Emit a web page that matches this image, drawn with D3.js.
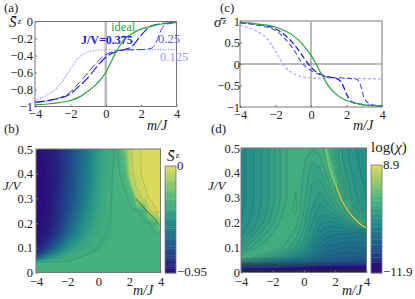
<!DOCTYPE html>
<html>
<head>
<meta charset="utf-8">
<script src="https://cdn.jsdelivr.net/npm/d3@7"></script>
<style>
html, body { margin: 0; padding: 0; background: #fff; overflow: hidden; }
text { font-family: "Liberation Serif", serif; fill: #222; }
.axis text { font-size: 12.5px; }
.lbl { font-size: 13px; }
</style>
</head>
<body>
<script>
//curve data (a) and (c)
var idealM = [-4, -3, -2, -1.5, -1, -0.5, 0, 0.25, 0.5, 0.75, 1, 1.5, 2, 2.5, 3, 4];
var idealS = [-0.98, -0.965, -0.93, -0.89, -0.82, -0.73, -0.6, -0.5, -0.39, -0.3, -0.22, -0.14, -0.09, -0.06, -0.035, -0.015];
var idealSigma = [0.96, 0.93, 0.86, 0.78, 0.66, 0.47, 0.2, 0.03, -0.17, -0.35, -0.52, -0.73, -0.85, -0.91, -0.95, -0.98];

var m375S = [-4, -3, -2, -1.5, -1, -0.5, 0, 0.5, 1, 1.5, 2, 2.5, 3, 4];
var s375 = [-0.95, -0.92, -0.85, -0.76, -0.66, -0.53, -0.42, -0.36, -0.335, -0.29, -0.16, -0.06, -0.03, -0.01];
var m25S = [-4, -3, -2, -1.5, -1, -0.5, 0, 0.5, 1, 2, 2.5, 2.8, 3, 3.2, 3.5, 4];
var s25 = [-0.95, -0.92, -0.83, -0.72, -0.6, -0.48, -0.39, -0.35, -0.335, -0.33, -0.32, -0.27, -0.17, -0.07, -0.03, -0.01];
var m125S = [-4, -3, -2.5, -2, -1.5, -1, -0.5, 0, 4];
var s125 = [-0.93, -0.82, -0.72, -0.56, -0.42, -0.36, -0.34, -0.335, -0.33];

var m375Sig = [-4, -3, -2, -1.5, -1, -0.5, 0, 0.5, 1, 1.5, 1.75, 2, 2.3, 2.7, 4];
var sig375 = [0.96, 0.92, 0.82, 0.68, 0.48, 0.2, -0.08, -0.23, -0.3, -0.35, -0.45, -0.7, -0.88, -0.93, -0.98];
var m25Sig = [-4, -3, -2, -1.5, -1, -0.5, 0, 0.5, 1, 2, 2.6, 2.8, 3, 3.3, 4];
var sig25 = [0.96, 0.9, 0.78, 0.6, 0.35, 0.02, -0.15, -0.25, -0.31, -0.33, -0.36, -0.5, -0.8, -0.92, -0.98];
var m125Sig = [-4, -3, -2.5, -2, -1.5, -1, -0.5, 0, 1, 4];
var sig125 = [0.9, 0.75, 0.6, 0.3, -0.05, -0.22, -0.3, -0.33, -0.33, -0.35];

//grid axes for the two contour panels
var gridM = [-4, -3.5, -3, -2.5, -2, -1.5, -1, -0.5, 0, 0.5, 1, 1.25, 1.5, 1.75, 2, 2.25, 2.5, 2.75, 3, 3.25, 3.5, 3.75, 4];
var gridJ = [0.5, 0.45, 0.4, 0.35, 0.3, 0.25, 0.2, 0.15, 0.1, 0.08, 0.06, 0.04, 0.025, 0.01, 0];

//panel (b) S values, one row per gridJ
var gridS = [
  [-.94,-.93,-.9,-.86,-.8,-.72,-.63,-.54,-.44,-.37,-.34,-.32,-.29,-.2,-.06,-.04,-.03,-.02,-.015,-.01,-.01,-.005,0],
  [-.95,-.93,-.9,-.86,-.8,-.72,-.63,-.53,-.43,-.37,-.34,-.33,-.31,-.26,-.07,-.04,-.03,-.02,-.015,-.01,-.01,-.005,0],
  [-.95,-.94,-.91,-.86,-.8,-.72,-.62,-.52,-.42,-.36,-.335,-.33,-.32,-.3,-.1,-.05,-.03,-.02,-.015,-.01,-.01,-.005,0],
  [-.95,-.94,-.91,-.86,-.79,-.71,-.61,-.51,-.41,-.36,-.335,-.33,-.33,-.32,-.27,-.07,-.04,-.03,-.02,-.015,-.01,-.01,-.005],
  [-.95,-.94,-.91,-.85,-.78,-.69,-.59,-.49,-.4,-.35,-.335,-.33,-.33,-.33,-.32,-.3,-.08,-.05,-.03,-.02,-.015,-.01,-.01],
  [-.95,-.94,-.9,-.84,-.76,-.66,-.56,-.46,-.39,-.35,-.335,-.33,-.33,-.33,-.33,-.33,-.33,-.32,-.29,-.06,-.03,-.02,-.015],
  [-.95,-.93,-.89,-.82,-.72,-.61,-.51,-.43,-.37,-.345,-.335,-.33,-.33,-.33,-.33,-.33,-.33,-.33,-.33,-.33,-.32,-.28,-.05],
  [-.94,-.91,-.86,-.77,-.65,-.53,-.45,-.39,-.355,-.34,-.335,-.33,-.33,-.33,-.33,-.33,-.33,-.33,-.33,-.33,-.33,-.33,-.33],
  [-.9,-.84,-.72,-.6,-.48,-.41,-.37,-.35,-.34,-.335,-.33,-.33,-.33,-.33,-.33,-.33,-.33,-.33,-.33,-.33,-.33,-.33,-.33],
  [-.86,-.75,-.6,-.48,-.41,-.37,-.35,-.34,-.335,-.33,-.33,-.33,-.33,-.33,-.33,-.33,-.33,-.33,-.33,-.33,-.33,-.33,-.33],
  [-.7,-.55,-.44,-.38,-.36,-.345,-.335,-.33,-.33,-.33,-.33,-.33,-.33,-.33,-.33,-.33,-.33,-.33,-.33,-.33,-.33,-.33,-.33],
  [-.33,-.33,-.33,-.33,-.33,-.33,-.33,-.33,-.33,-.33,-.33,-.33,-.33,-.33,-.33,-.33,-.33,-.33,-.33,-.33,-.33,-.33,-.33],
  [-.33,-.33,-.33,-.33,-.33,-.33,-.33,-.33,-.33,-.33,-.33,-.33,-.33,-.33,-.33,-.33,-.33,-.33,-.33,-.33,-.33,-.33,-.33],
  [-.33,-.33,-.33,-.33,-.33,-.33,-.33,-.33,-.33,-.33,-.33,-.33,-.33,-.33,-.33,-.33,-.33,-.33,-.33,-.33,-.33,-.33,-.33],
  [-.33,-.33,-.33,-.33,-.33,-.33,-.33,-.33,-.33,-.33,-.33,-.33,-.33,-.33,-.33,-.33,-.33,-.33,-.33,-.33,-.33,-.33,-.33]
];

//panel (d) log(chi) values, one row per gridJ
var gridChi = [
  [-2.2,-1.8,-1.3,-.8,-.2,.5,1.1,1.3,1.2,1.1,1.2,1.5,1.8,1.2,.4,-.2,-.6,-.9,-1.2,-1.4,-1.6,-1.8,-2],
  [-2.2,-1.8,-1.3,-.8,-.2,.5,1.1,1.35,1.1,.6,.8,1.2,1.6,1.8,.8,0,-.5,-.8,-1.1,-1.3,-1.5,-1.7,-1.9],
  [-2.2,-1.8,-1.3,-.8,-.2,.5,1.1,1.4,1,.2,.3,.7,1.2,1.8,1.7,.5,-.2,-.6,-.9,-1.2,-1.4,-1.6,-1.8],
  [-2.2,-1.8,-1.3,-.8,-.2,.5,1.1,1.45,.9,0,-.2,.1,.6,1.2,1.8,1.5,.3,-.3,-.7,-1,-1.2,-1.4,-1.6],
  [-2.2,-1.8,-1.3,-.8,-.2,.5,1.1,1.55,.7,-.2,-.7,-.5,-.2,.2,.9,1.8,1.6,.2,-.4,-.8,-1.1,-1.3,-1.5],
  [-2.1,-1.7,-1.2,-.7,0,.7,1.4,1.6,.5,-.5,-1.2,-1.2,-1,-.7,-.4,0,.6,1.8,1.6,.2,-.7,-1.1,-1.5],
  [-2,-1.5,-1,-.4,.4,1.1,1.5,1.2,.2,-.9,-1.8,-2,-2.1,-2.1,-2,-1.8,-1.5,-1.2,-.8,-.3,1.8,1,0],
  [-1.6,-1,-.2,.5,1.1,1.4,1.2,.7,-.2,-1.4,-2.6,-3,-3.3,-3.4,-3.5,-3.6,-3.7,-3.7,-3.8,-3.8,-3.8,-3.8,-3.8],
  [-.5,.3,1,1.4,1.5,1.2,.7,0,-1,-2.5,-3.8,-4.2,-4.5,-4.7,-4.8,-4.9,-5,-5,-5,-5,-5,-5,-5],
  [.5,1.2,1.5,1.3,.9,.4,-.2,-1,-2,-3.2,-4.4,-4.8,-5,-5.2,-5.3,-5.4,-5.5,-5.5,-5.5,-5.5,-5.5,-5.5,-5.5],
  [1.5,1.3,.8,.3,-.2,-.8,-1.5,-2.3,-3.2,-4.2,-5,-5.3,-5.6,-5.8,-5.9,-6,-6,-6,-6.1,-6.1,-6.2,-6.2,-6.2],
  [-1.5,-2,-2.5,-3,-3.5,-4,-4.5,-5,-5.5,-6,-6.5,-6.7,-6.9,-7,-7.1,-7.2,-7.3,-7.3,-7.4,-7.4,-7.5,-7.5,-7.5],
  [-8,-8.2,-8.4,-8.6,-8.8,-9,-9.2,-9.4,-9.6,-9.7,-9.9,-10,-10,-10.1,-10.1,-10.2,-10.2,-10.2,-10.3,-10.3,-10.3,-10.3,-10.3],
  [-11,-11,-11,-11.1,-11.1,-11.1,-11.2,-11.2,-11.2,-11.3,-11.3,-11.3,-11.3,-11.3,-11.4,-11.4,-11.4,-11.4,-11.4,-11.4,-11.4,-11.4,-11.4],
  [-30,-30,-30,-30,-30,-30,-30,-30,-30,-30,-30,-30,-30,-30,-30,-30,-30,-30,-30,-30,-30,-30,-30]
];

//sharp features that the grid is too coarse for
var ridgeM = [1.4, 1.55, 1.75, 2.05, 2.35, 2.8, 3.5, 4];
var ridgeJ = [0.5, 0.45, 0.4, 0.35, 0.3, 0.25, 0.2, 0.178];
var edgeM = [2.4, 2.75, 3.1, 3.5, 3.85, 4];
var edgeJ = [0.3, 0.275, 0.25, 0.225, 0.2, 0.19];

//ticks and labels
var mTicks = [-4, -2, 0, 2, 4];
var sTicks = [0, -0.2, -0.4, -0.6, -0.8, -1];
var sigmaTicks = [1, 0.5, 0, -0.5, -1];
var jTicks = [0, 0.1, 0.2, 0.3, 0.4, 0.5];

//colour ramp of the contour panels
var rampColors = ["#2a0f7a", "#1f4f8c", "#1f8a8a", "#4cb87c", "#8ec86a", "#e4dc5a"];
var rampStops = [0, 0.2, 0.45, 0.68, 0.82, 1];

var svg = d3.select("body").append("svg")
  .attr("width", 415)
  .attr("height", 299);

var frameColor = "#777";
var rampScale = d3.scaleLinear().domain(rampStops).range(rampColors).interpolate(d3.interpolateRgb);

function tickFmt(d){
  return String(d).replace("-", "\u2212");
}

function drawAxes(x, y, xTicks, yTicks, xPad, yPad){
  var gx = svg.append("g").attr("class", "axis")
    .attr("transform", "translate(0," + y.range()[0] + ")")
    .call(d3.axisBottom(x).tickValues(xTicks).tickSizeInner(-2).tickSizeOuter(0).tickFormat(tickFmt).tickPadding(xPad));
  var gy = svg.append("g").attr("class", "axis")
    .attr("transform", "translate(" + x.range()[0] + ",0)")
    .call(d3.axisLeft(y).tickValues(yTicks).tickSizeInner(-2).tickSizeOuter(0).tickFormat(tickFmt).tickPadding(yPad));
  svg.selectAll(".axis line").attr("stroke", frameColor);
  svg.selectAll(".axis path").attr("stroke", "none");
}

function frame(x, y, top){
  svg.append("rect")
    .attr("x", x.range()[0]).attr("y", y.range()[1])
    .attr("width", x.range()[1] - x.range()[0])
    .attr("height", y.range()[0] - y.range()[1])
    .attr("fill", "none")
    .attr("stroke", frameColor)
    .attr("stroke-width", 1);
  if (top) {
    svg.append("line")
      .attr("x1", x.range()[0]).attr("x2", x.range()[1])
      .attr("y1", y.range()[1]).attr("y2", y.range()[1])
      .attr("stroke", "#bbb").attr("stroke-width", 2);
  }
}

function drawLine(x, y, ms, vs, color, width, dash, opacity){
  var line = d3.line()
    .x(function(d){ return x(d[0]); })
    .y(function(d){ return y(d[1]); })
    .curve(d3.curveMonotoneX);
  svg.append("path")
    .datum(d3.zip(ms, vs))
    .attr("d", line)
    .attr("fill", "none")
    .attr("stroke", color)
    .attr("stroke-width", width)
    .attr("stroke-opacity", opacity === undefined ? 1 : opacity)
    .attr("stroke-dasharray", dash);
}

function label(px, py, txt, size, style, color){
  return svg.append("text")
    .attr("class", "lbl")
    .attr("x", px).attr("y", py)
    .style("font-size", size + "px")
    .style("font-style", style || "normal")
    .style("fill", color || "#222")
    .text(txt);
}

function barLabel(px, py, letter){
  var t = label(px, py, letter + "\u0304", 15, "italic");
  t.append("tspan").attr("dx", 1).attr("dy", -3).style("font-size", "9px").style("font-style", "normal").text("z");
}

//contour panel: filled bands, then the thin lines on top (no segments along the border)
function contourPanel(x, y, grid, bands, lines, lineOpacity){
  var flat = d3.merge(grid);
  var nx = gridM.length, ny = gridJ.length;
  var colIndex = d3.scaleLinear().domain(d3.range(nx)).range(gridM).clamp(true);
  var rowIndex = d3.scaleLinear().domain(d3.range(ny)).range(gridJ).clamp(true);
  var toPx = function(p){ return [x(colIndex(p[0] - 0.5)), y(rowIndex(p[1] - 0.5))]; };
  var project = d3.geoTransform({
    point: function(a, b){
      var p = toPx([a, b]);
      this.stream.point(p[0], p[1]);
    }
  });
  var path = d3.geoPath(project);
  var contours = d3.contours().size([nx, ny]);
  var lo = bands[0], hi = bands[bands.length - 1];

  svg.append("rect")
    .attr("x", x.range()[0]).attr("y", y.range()[1])
    .attr("width", x.range()[1] - x.range()[0]).attr("height", y.range()[0] - y.range()[1])
    .attr("fill", rampScale(0));

  svg.append("g").selectAll("path")
    .data(contours.thresholds(bands.slice(1, -1))(flat))
    .enter().append("path")
    .attr("d", path)
    .attr("fill", function(d){ return rampScale((d.value - lo) / (hi - lo)); });

  var onBorder = function(p, q){
    return (p[0] <= 0.5 && q[0] <= 0.5) || (p[0] >= nx - 0.5 && q[0] >= nx - 0.5) ||
      (p[1] <= 0.5 && q[1] <= 0.5) || (p[1] >= ny - 0.5 && q[1] >= ny - 0.5);
  };
  var lineGen = d3.line();
  var segs = [];
  contours.thresholds(lines)(flat).forEach(function(c){
    c.coordinates.forEach(function(poly){
      poly.forEach(function(ring){
        var run = [];
        for (var i = 0; i < ring.length; i++){
          run.push(toPx(ring[i]));
          if (i < ring.length - 1 && onBorder(ring[i], ring[i + 1])){
            if (run.length > 1) segs.push(run);
            run = [];
          }
        }
        if (run.length > 1) segs.push(run);
      });
    });
  });
  svg.append("g").selectAll("path")
    .data(segs)
    .enter().append("path")
    .attr("d", lineGen)
    .attr("fill", "none")
    .attr("stroke", "#333")
    .attr("stroke-opacity", lineOpacity)
    .attr("stroke-width", 0.6);
}

function colorBar(x0, x1, y, bands, topTxt, botTxt){
  svg.append("g").selectAll("rect")
    .data(d3.pairs(bands))
    .enter().append("rect")
    .attr("x", x0)
    .attr("width", x1 - x0)
    .attr("y", function(d){ return y(d[1]); })
    .attr("height", function(d){ return y(d[0]) - y(d[1]) + 0.3; })
    .attr("fill", function(d){
      return rampScale((d[0] - bands[0]) / (bands[bands.length - 1] - bands[0]));
    });
  svg.append("rect")
    .attr("x", x0).attr("y", y.range()[1])
    .attr("width", x1 - x0).attr("height", y.range()[0] - y.range()[1])
    .attr("fill", "none").attr("stroke", frameColor).attr("stroke-width", 0.8);
  label(x1 + 1, y.range()[1] + 4, topTxt, 13);
  label(x1 + 1, y.range()[0] + 3, botTxt, 13);
}

// ---- panel (a)
var xA = d3.scaleLinear().domain([-4, 4]).range([35, 176.5]);
var yA = d3.scaleLinear().domain([-1, 0]).range([106.5, 21.5]);
svg.append("line").attr("x1", xA(0)).attr("x2", xA(0)).attr("y1", yA(0)).attr("y2", yA(-1))
  .attr("stroke", "#bbb").attr("stroke-width", 2.5);
drawLine(xA, yA, m125S, s125, "#8f8ffa", 1.2, "1.2 1.5");
drawLine(xA, yA, m25S, s25, "#3a3aee", 1, "8 3");
drawLine(xA, yA, m375S, s375, "#1f1fd8", 1.2, "10 3");
drawLine(xA, yA, idealM, idealS, "#25a83a", 1.2, null);
frame(xA, yA, false);
drawAxes(xA, yA, mTicks, sTicks, 3, 2);
label(4, 12, "(a)", 13);
barLabel(9, 27, "S");
label(111, 31, "ideal", 12.5, null, "#25a83a");
label(81, 44, "J/V=0.375", 12, null, "#2222dd").style("font-weight", "bold");
label(158, 43, "0.25", 12.5, null, "#5a5aee");
label(160, 61, "0.125", 12.5, null, "#9a9afa");
label(147, 130, "m/J", 14, "italic");

// ---- panel (c)
var xC = d3.scaleLinear().domain([-4, 4]).range([240, 382]);
var yC = d3.scaleLinear().domain([-1, 1]).range([107, 21]);
svg.append("line").attr("x1", xC(0)).attr("x2", xC(0)).attr("y1", yC(1)).attr("y2", yC(-1))
  .attr("stroke", frameColor).attr("stroke-width", 1);
svg.append("line").attr("x1", xC(-4)).attr("x2", xC(4)).attr("y1", yC(0)).attr("y2", yC(0))
  .attr("stroke", frameColor).attr("stroke-width", 1);
drawLine(xC, yC, m125Sig, sig125, "#a5a5fa", 1.2, "3 2");
drawLine(xC, yC, m25Sig, sig25, "#4a4aee", 1.1, "5 3");
drawLine(xC, yC, m375Sig, sig375, "#1f1fd8", 1.3, "6 3");
drawLine(xC, yC, idealM, idealSigma, "#25a83a", 1.2, null);
frame(xC, yC, true);
drawAxes(xC, yC, mTicks, sigmaTicks, 3, 0);
label(220, 12, "(c)", 13);
barLabel(214, 27, "\u03c3");
label(353, 130, "m/J", 14, "italic");

// ---- panel (b)
var xB = d3.scaleLinear().domain([-4, 4]).range([36, 160.5]);
var yB = d3.scaleLinear().domain([0, 0.5]).range([272.5, 149]);
var bandsS = d3.range(-0.95, 0.0001, 0.95 / 48);
contourPanel(xB, yB, gridS, bandsS, [-0.9, -0.72, -0.34, -0.325, -0.05, -0.02], 0.28);
drawLine(xB, yB, edgeM, edgeJ, "#333", 1.2, null, 0.45);
frame(xB, yB, false);
drawAxes(xB, yB, mTicks, jTicks, 5, 3);
label(4, 133, "(b)", 13);
label(3, 190, "J/V", 13, "italic");
label(133, 295, "m/J", 14, "italic");
var barYB = d3.scaleLinear().domain([-0.95, 0]).range([273, 166]);
colorBar(165, 176, barYB, bandsS, "0", "\u22120.95");
barLabel(167, 161, "S");

// ---- panel (d)
var xD = d3.scaleLinear().domain([-4, 4]).range([241, 366.5]);
var yD = d3.scaleLinear().domain([0, 0.5]).range([272.5, 148]);
var bandsChi = [-11.9].concat(d3.range(-9.9, 8.9001, 0.5));
if (bandsChi[bandsChi.length - 1] < 8.9) bandsChi.push(8.9);
//log(chi) keeps falling at J = 0, the crowded lines below -12 give the black strip
var linesChi = d3.range(-29, -12, 0.5).concat(d3.range(-8, 1.6, 0.5));
contourPanel(xD, yD, gridChi, bandsChi, linesChi, 0.3);
drawLine(xD, yD, ridgeM.slice(3), ridgeJ.slice(3), "#333", 3.2, null, 0.35);
drawLine(xD, yD, ridgeM.slice(0, 4), ridgeJ.slice(0, 4), "#72c272", 2.6, null);
drawLine(xD, yD, ridgeM.slice(3), ridgeJ.slice(3), "#a8c860", 1.8, null);
frame(xD, yD, false);
drawAxes(xD, yD, mTicks, jTicks, 5, 1);
label(211, 133, "(d)", 13);
label(208, 190, "J/V", 13, "italic");
label(342, 295, "m/J", 14, "italic");
var barYD = d3.scaleLinear().domain([-11.9, 8.9]).range([273, 165]);
colorBar(371, 382, barYD, bandsChi, "8.9", "\u221211.9");
var logLabel = label(371, 152, "log(", 15);
logLabel.append("tspan").style("font-style", "italic").text("\u03c7");
logLabel.append("tspan").text(")");
</script>
</body>
</html>
